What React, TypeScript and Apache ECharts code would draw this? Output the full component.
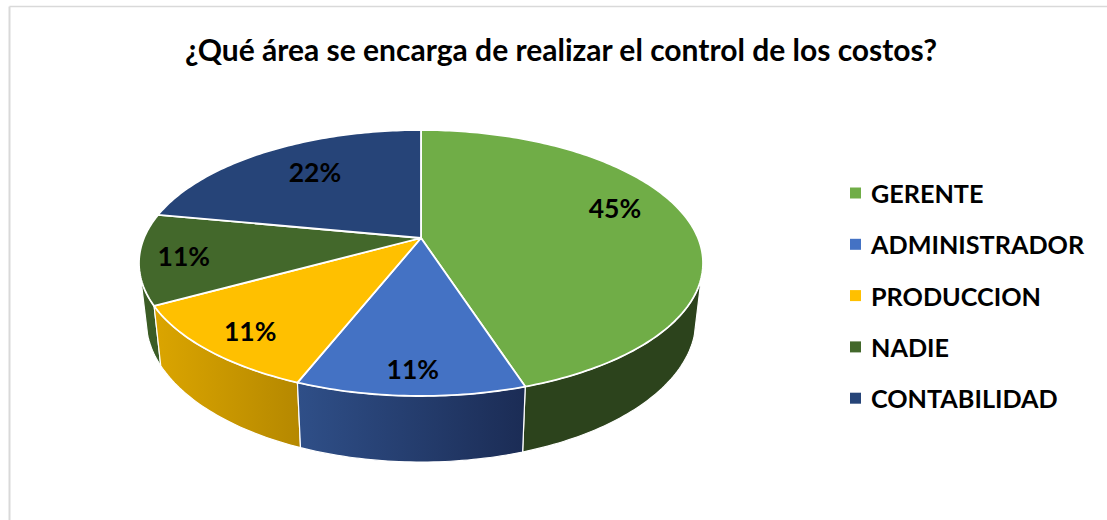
import React, { useEffect, useRef } from "react";
import * as echarts from "echarts";

const titleText = "¿Qué área se encarga de realizar el control de los costos?";
const categories = ["GERENTE", "ADMINISTRADOR", "PRODUCCION", "NADIE", "CONTABILIDAD"];
const values = [45, 11, 11, 11, 22];
const topColors = ["#70ad47", "#4472c4", "#ffc000", "#43682b", "#264478"];
const sideColors = [
  ["#2c431c", "#2c431c"],
  ["#2f4f88", "#1b2c55"],
  ["#dba500", "#b58800"],
  ["#3b5c25", "#3b5c25"],
  ["#1c335c", "#1c335c"],
];
const labelOffsets = [[1, -16], [-1, 24], [-24, 16], [-36, 3], [9, -2]];

const CX = 421, CY = 238, K = 0.188, A = 128.3, B = 277;
const DROP = 55, SX = 0.975, SY = 1.07;
const WALL_FROM = 107, WALL_TO = 253;
const total = values.reduce((s, v) => s + v, 0);
const FONT = "Lato, Carlito, sans-serif";

function plane(deg: number, r = 1) {
  const t = (deg * Math.PI) / 180;
  const den = 1 + K * r * Math.cos(t);
  return [(B * r * Math.sin(t)) / den, (-A * r * Math.cos(t)) / den];
}
const topPt = (deg: number, r = 1) => {
  const [x, y] = plane(deg, r);
  return [CX + x, CY + y];
};
const botPt = (deg: number) => {
  const [x, y] = plane(deg);
  return [CX + x * SX, CY + DROP + y * SY];
};
function arc(from: number, to: number, f: (d: number) => number[]) {
  const n = Math.max(2, Math.ceil(Math.abs(to - from)));
  const out: number[][] = [];
  for (let i = 0; i <= n; i++) out.push(f(from + ((to - from) * i) / n));
  return out;
}
function sliceAngles(i: number) {
  const before = values.slice(0, i).reduce((s, v) => s + v, 0);
  return [(before / total) * 360, ((before + values[i]) / total) * 360];
}

function renderSides() {
  const order = [3, 0, 2, 1];
  return {
    type: "group",
    children: order.map((i) => {
      const [s0, s1] = sliceAngles(i);
      const a0 = Math.max(s0, WALL_FROM);
      const a1 = Math.min(s1, WALL_TO);
      const pts = [...arc(a0, a1, topPt), ...arc(a1, a0, botPt)];
      const xs = pts.map((p) => p[0]);
      return {
        type: "polygon",
        shape: { points: pts },
        style: {
          fill: new echarts.graphic.LinearGradient(
            Math.min(...xs), 0, Math.max(...xs), 0,
            [
              { offset: 0, color: sideColors[i][0] },
              { offset: 1, color: sideColors[i][1] },
            ],
            true
          ),
          stroke: "#ffffff",
          lineWidth: 1.2,
        },
      };
    }),
  };
}

function renderTop(i: number) {
  return () => {
    const [a0, a1] = sliceAngles(i);
    const pts = [[CX, CY], ...arc(a0, a1, topPt)];
    return {
      type: "polygon",
      shape: { points: pts },
      style: { fill: topColors[i], stroke: "#ffffff", lineWidth: 1.8, lineJoin: "round" },
    };
  };
}

function renderLabel(i: number) {
  return () => {
    const [a0, a1] = sliceAngles(i);
    const [x, y] = topPt((a0 + a1) / 2, 0.72);
    return {
      type: "text",
      style: {
        x: x + labelOffsets[i][0],
        y: y + labelOffsets[i][1],
        text: `${values[i]}%`,
        fill: "#000000",
        font: `bold 26.5px ${FONT}`,
        textAlign: "center",
        textVerticalAlign: "middle",
      },
    };
  };
}

export default function App() {
  const ref = useRef<HTMLDivElement>(null);
  useEffect(() => {
    const chart = echarts.init(ref.current!, undefined, { renderer: "svg" });
    chart.setOption({
      animation: false,
      backgroundColor: "#ffffff",
      title: {
        text: titleText,
        left: 556,
        top: 29,
        textAlign: "center",
        textStyle: { fontFamily: FONT, fontWeight: "bold", fontSize: 30, color: "#000000" },
      },
      legend: {
        orient: "vertical",
        left: 850,
        top: 180,
        padding: 0,
        icon: "rect",
        itemWidth: 11,
        itemHeight: 11,
        itemGap: 25.3,
        data: categories,
        selectedMode: false,
        textStyle: {
          fontFamily: FONT,
          fontWeight: "bold",
          fontSize: 25.2,
          color: "#000000",
          lineHeight: 26,
          padding: [0, 0, 0, 5],
        },
      },
      graphic: [
        {
          type: "line",
          silent: true,
          z: -1,
          shape: { x1: 9.5, y1: 6.5, x2: 1107, y2: 6.5 },
          style: { stroke: "#d9d9d9", lineWidth: 1.5 },
        },
        {
          type: "line",
          silent: true,
          z: -1,
          shape: { x1: 9.5, y1: 6.5, x2: 9.5, y2: 520 },
          style: { stroke: "#d9d9d9", lineWidth: 2 },
        },
      ],
      series: [
        {
          type: "custom",
          name: "lados",
          coordinateSystem: "none",
          silent: true,
          z: 1,
          data: [total],
          renderItem: renderSides,
        },
        ...categories.map((name, i) => ({
          type: "custom",
          name,
          coordinateSystem: "none",
          silent: true,
          z: 2,
          itemStyle: { color: topColors[i] },
          data: [values[i]],
          renderItem: renderTop(i),
        })),
        ...categories.map((name, i) => ({
          type: "custom",
          name: `etiqueta ${name}`,
          coordinateSystem: "none",
          silent: true,
          z: 3,
          data: [values[i]],
          renderItem: renderLabel(i),
        })),
      ],
    });
    return () => chart.dispose();
  }, []);
  return <div ref={ref} style={{ position: "absolute", left: 0, top: 0, width: 1107, height: 520 }} />;
}
